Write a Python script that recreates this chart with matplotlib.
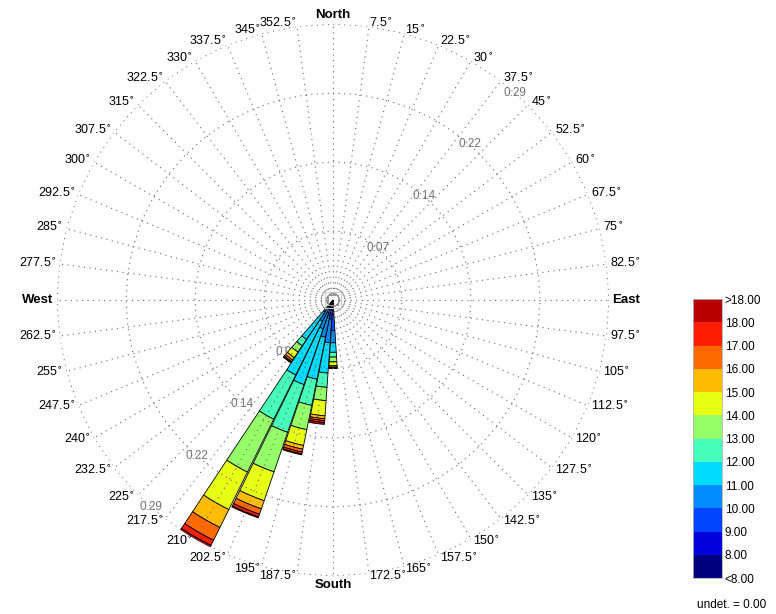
import numpy as np
import matplotlib.pyplot as plt

plt.rcParams['font.family'] = ['Liberation Sans', 'DejaVu Sans']
plt.rcParams['mathtext.fontset'] = 'dejavusans'

# wind directions (deg, clockwise from north) that carry data
directions = [180, 187.5, 195, 202.5, 210, 217.5]

# relative frequency per speed class, from <8 up to >18
freq_180 = [0.004, 0.011, 0.017, 0.013, 0.010, 0.005, 0.005, 0.004, 0.0015, 0.0007, 0.0004, 0.0002]
freq_187 = [0.003, 0.005, 0.012, 0.025, 0.032, 0.015, 0.014, 0.016, 0.003, 0.002, 0.002, 0.002]
freq_195 = [0.003, 0.005, 0.010, 0.022, 0.045, 0.028, 0.026, 0.017, 0.004, 0.003, 0.002, 0.001]
freq_202 = [0.002, 0.004, 0.008, 0.018, 0.062, 0.053, 0.044, 0.032, 0.009, 0.006, 0.003, 0.001]
freq_210 = [0.002, 0.003, 0.005, 0.015, 0.063, 0.052, 0.062, 0.044, 0.021, 0.015, 0.006, 0.002]
freq_217 = [0.001, 0.002, 0.004, 0.008, 0.035, 0.008, 0.008, 0.007, 0.003, 0.002, 0.001, 0.0005]

speed_labels = ['<8.00', '8.00', '9.00', '10.00', '11.00', '12.00', '13.00',
                '14.00', '15.00', '16.00', '17.00', '18.00', '>18.00']
bin_colors = ['#00007f', '#0000dc', '#0044ff', '#008cff', '#00dcff', '#45ffbb',
              '#95ff6a', '#e6ff14', '#ffbb00', '#ff6a00', '#ff1e00', '#b80000']

ring_levels = [0.0725, 0.145, 0.2175, 0.29]
ring_labels = ['0.07', '0.14', '0.22', '0.29']

fig = plt.figure(figsize=(7.76, 6.14), dpi=100)
ax = fig.add_axes([0.0735, 0.0619, 0.7113, 0.899], projection='polar')
ax.set_theta_zero_location('N')
ax.set_theta_direction(-1)
ax.set_ylim(0, 0.29)
ax.grid(False)
ax.set_xticks([])
ax.set_yticks([])
ax.spines['polar'].set_visible(False)

# stacked sectors
width = np.deg2rad(7.5) * 0.95
freqs = [freq_180, freq_187, freq_195, freq_202, freq_210, freq_217]
for d, f in zip(directions, freqs):
    bottom = 0
    for val, col in zip(f, bin_colors):
        ax.bar(np.deg2rad(d), val, width=width, bottom=bottom, color=col,
               edgecolor='black', linewidth=0.6, zorder=3)
        bottom += val

# dotted grid drawn over the sectors
dots = dict(color='0.4', linestyle=(0, (1, 4)), linewidth=0.8, zorder=4)
step = np.arange(0, 367.5, 7.5)
th = np.deg2rad(step)
for lvl in ring_levels:
    ax.plot(th, np.full(len(th), lvl), **dots)
for a in step[:-1]:
    ax.plot([np.deg2rad(a)] * 2, [0.006, 0.29], **dots)

# small square at the centre
sq = np.deg2rad([45, 135, 225, 315, 45])
ax.plot(sq, [0.0075] * 5, color='0.6', lw=0.8, zorder=5)
ax.plot(sq, [0.0115] * 5, color='0.8', lw=0.8, zorder=5)

# ring value labels, NE and SW
for lvl, lab in zip(ring_levels, ring_labels):
    for ang in (41.25, 221.25):
        ax.text(np.deg2rad(ang), lvl, lab, ha='center', va='center',
                fontsize=8.5, color='0.45', zorder=2)

# direction labels
names = {0: 'North', 90: 'East', 180: 'South', 270: 'West'}
for a in step[:-1]:
    if a in names:
        txt = names[a]
        weight = 'bold'
        size = 9.5
    else:
        txt = f'{a:g}' + r'$^{\circ}$'
        weight = 'normal'
        size = 9
    if a == 0:
        ha, va = 'center', 'bottom'
    elif a == 180:
        ha, va = 'center', 'top'
    elif a < 180:
        ha, va = 'left', 'center'
    else:
        ha, va = 'right', 'center'
    ax.text(np.deg2rad(a), 0.2935, txt, ha=ha, va=va, fontsize=size,
            fontweight=weight, clip_on=False)

# colour scale
cax = fig.add_axes([0.893, 0.0586, 0.0374, 0.4544])
cax.bar(0, np.ones(len(bin_colors)), bottom=np.arange(len(bin_colors)), width=1,
        color=bin_colors, edgecolor='none')
cax.set_xlim(-0.5, 0.5)
cax.set_ylim(0, len(bin_colors))
cax.set_xticks([])
cax.yaxis.tick_right()
cax.set_yticks(np.arange(len(speed_labels)))
cax.set_yticklabels(speed_labels, fontsize=8.5)
cax.tick_params(axis='y', length=0, pad=2)
for s in cax.spines.values():
    s.set_color('0.7')
    s.set_linewidth(0.6)

fig.text(697 / 776, 1 - 605 / 614, 'undet. = 0.00', fontsize=8.5, va='center')

fig.savefig('out.png', dpi=100)
